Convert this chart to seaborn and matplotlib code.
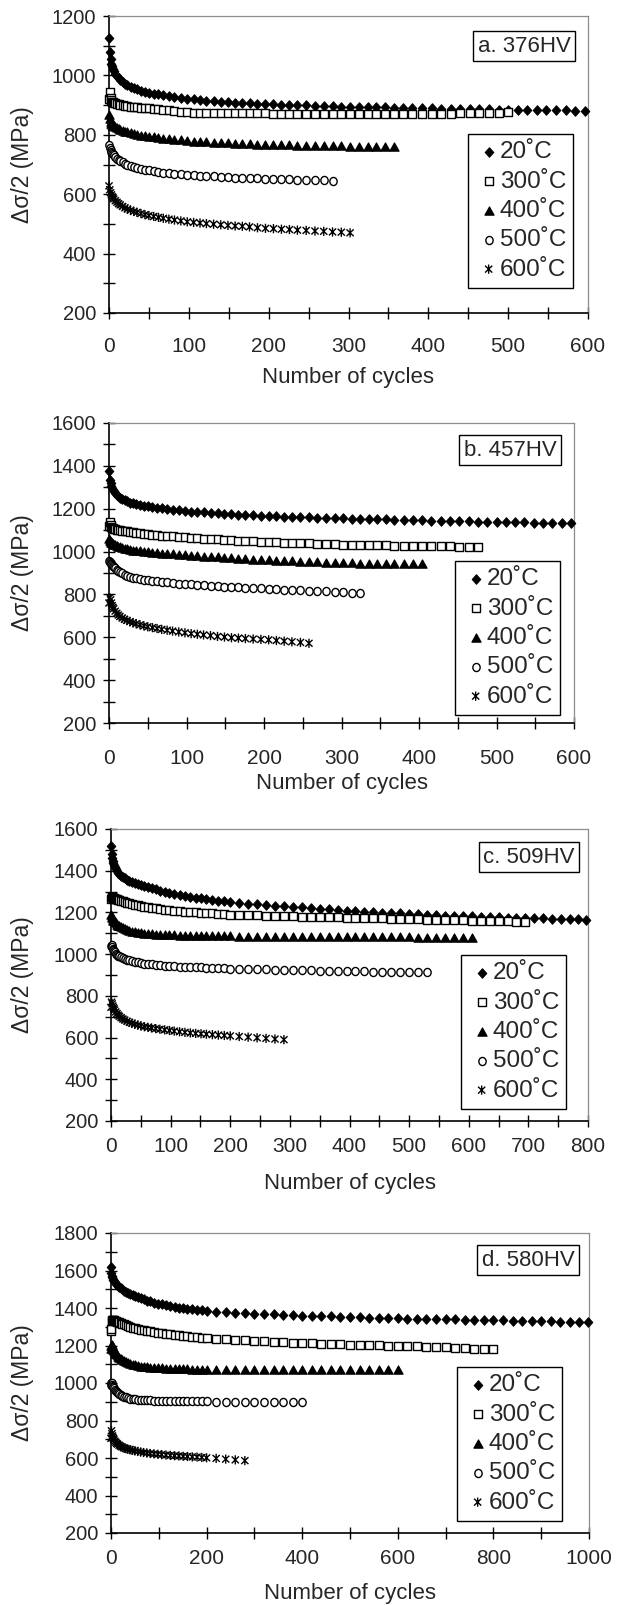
import matplotlib
matplotlib.use("Agg")
import matplotlib.pyplot as plt
import seaborn as sns
import pandas as pd
from matplotlib.path import Path
from matplotlib.ticker import MultipleLocator

# ---------------- data ----------------
TEMPS = ["20˚C", "300˚C", "400˚C", "500˚C", "600˚C"]
PANEL_TITLES = ["a. 376HV", "b. 457HV", "c. 509HV", "d. 580HV"]

CYCLES_600 = [0, 1, 2, 3, 4, 5, 6, 8, 10, 12, 14, 17, 20, 23, 27, 31, 35, 40, 45, 50,
              56, 62, 68, 75, 82, 90, 98, 106, 114, 122, 131, 140, 149, 158, 167, 176,
              186, 196, 206, 216, 226, 236, 247, 258, 269, 280, 291, 302, 313, 324, 335,
              346, 357, 368, 380, 392, 404, 416, 428, 440, 452, 464, 476, 488, 500, 512,
              524, 536, 548, 560, 572, 584, 596]
CYCLES_800 = [0, 1, 2, 3, 4, 5, 6, 8, 10, 12, 14, 17, 20, 23, 27, 31, 35, 40, 45, 50,
              56, 62, 68, 75, 82, 90, 98, 106, 115, 124, 133, 142, 151, 160, 170, 180,
              190, 200, 215, 230, 245, 260, 275, 290, 305, 320, 335, 350, 365, 380, 395,
              410, 425, 440, 455, 470, 485, 500, 515, 530, 545, 560, 575, 590, 605, 620,
              635, 650, 665, 680, 695, 710, 725, 740, 755, 770, 784, 797]
CYCLES_1000 = [0, 1, 2, 3, 4, 5, 6, 8, 10, 12, 14, 17, 20, 23, 27, 31, 35, 40, 45, 50,
               56, 62, 68, 75, 82, 90, 98, 106, 115, 124, 133, 142, 151, 160, 170, 180,
               190, 200, 220, 240, 260, 280, 300, 320, 340, 360, 380, 400, 420, 440, 460,
               480, 500, 520, 540, 560, 580, 600, 620, 640, 660, 680, 700, 720, 740, 760,
               780, 800, 820, 840, 860, 880, 900, 920, 940, 960, 980, 997]

# a. 376HV
A_20 = [1125, 1078, 1055, 1040, 1030, 1022, 1015, 1005, 997, 990, 985, 978, 972, 967, 962,
        957, 953, 949, 945, 942, 939, 936, 933, 930, 927, 924, 921, 919, 917, 915, 913, 911,
        910, 908, 907, 906, 905, 904, 903, 902, 901, 900, 899, 898, 897, 896, 895, 894, 894,
        893, 892, 892, 891, 891, 890, 889, 889, 888, 888, 887, 887, 886, 886, 885, 885, 884,
        884, 883, 883, 882, 882, 881, 881]
A_300 = [920, 945, 925, 916, 912, 910, 908, 906, 904, 903, 901, 900, 898, 897, 895, 894, 892,
         891, 890, 889, 887, 886, 884, 882, 880, 878, 876, 875, 875, 874, 874, 873, 873, 873,
         872, 872, 872, 872, 871, 871, 871, 871, 870, 870, 870, 870, 870, 870, 870, 870, 870,
         870, 870, 870, 870, 870, 871, 871, 871, 872, 872, 873, 874, 875, 876]
A_400 = [868, 852, 843, 838, 834, 831, 829, 825, 822, 819, 817, 814, 811, 808, 805, 802, 800,
         797, 795, 793, 791, 789, 787, 785, 783, 781, 779, 777, 776, 775, 774, 772, 771, 770,
         769, 768, 767, 766, 765, 764, 764, 763, 763, 762, 762, 761, 761, 760, 760, 759, 759,
         758, 758]
A_500 = [765, 755, 748, 743, 738, 734, 731, 725, 720, 716, 712, 707, 703, 699, 695, 691, 688,
         685, 682, 680, 677, 675, 673, 671, 669, 667, 665, 663, 662, 661, 660, 658, 657, 656,
         655, 654, 653, 652, 651, 650, 650, 649, 648, 647, 647, 646]
A_600 = [628, 615, 605, 598, 592, 588, 584, 578, 573, 568, 564, 559, 554, 550, 546, 542, 539,
         535, 531, 528, 525, 522, 519, 516, 513, 510, 507, 505, 503, 501, 499, 497, 495, 493,
         492, 490, 487, 485, 484, 482, 481, 479, 478, 476, 475, 473, 472, 470]

# b. 457HV
B_20 = [1376, 1335, 1318, 1305, 1296, 1289, 1283, 1273, 1265, 1258, 1252, 1245, 1239, 1234,
        1229, 1225, 1221, 1217, 1214, 1211, 1208, 1205, 1202, 1199, 1196, 1193, 1190, 1187,
        1185, 1183, 1181, 1179, 1177, 1175, 1173, 1171, 1169, 1167, 1165, 1164, 1163, 1162,
        1161, 1160, 1158, 1157, 1156, 1155, 1154, 1153, 1152, 1151, 1150, 1149, 1148, 1147,
        1146, 1145, 1144, 1143, 1142, 1141, 1140, 1139, 1138, 1137, 1137, 1136, 1135, 1135,
        1134, 1134, 1133]
B_300 = [1120, 1140, 1125, 1115, 1110, 1108, 1106, 1104, 1102, 1101, 1100, 1098, 1096, 1094,
         1092, 1090, 1088, 1086, 1083, 1081, 1079, 1077, 1075, 1073, 1071, 1069, 1067, 1065,
         1063, 1061, 1059, 1057, 1055, 1053, 1051, 1049, 1048, 1046, 1044, 1043, 1042, 1040,
         1039, 1038, 1037, 1035, 1034, 1033, 1032, 1031, 1031, 1030, 1029, 1028, 1028, 1027,
         1026, 1025, 1025, 1024, 1023, 1022, 1021]
B_400 = [1060, 1050, 1045, 1041, 1038, 1035, 1033, 1029, 1026, 1023, 1020, 1017, 1014, 1011,
         1008, 1005, 1003, 1001, 999, 997, 995, 993, 991, 989, 987, 985, 983, 981, 979, 977,
         975, 973, 971, 969, 967, 965, 963, 961, 959, 957, 956, 955, 953, 952, 950, 949, 947,
         946, 945, 944, 944, 943, 943, 942, 942, 941, 941]
B_500 = [955, 950, 945, 940, 936, 932, 928, 922, 916, 910, 905, 898, 892, 888, 883, 879, 876,
         872, 869, 866, 863, 861, 858, 856, 854, 851, 849, 847, 845, 843, 841, 839, 837, 835,
         833, 831, 829, 828, 826, 825, 823, 822, 820, 818, 817, 815, 813, 811, 809, 807]
B_600 = [760, 785, 775, 760, 748, 740, 733, 722, 712, 704, 697, 690, 684, 679, 673, 668, 663,
         658, 653, 649, 645, 641, 637, 633, 629, 625, 621, 617, 614, 611, 608, 604, 601, 598,
         596, 594, 592, 590, 588, 585, 582, 579, 576, 572]

# c. 509HV
C_20 = [1518, 1480, 1462, 1448, 1437, 1428, 1420, 1408, 1399, 1391, 1385, 1376, 1369, 1363,
        1356, 1350, 1345, 1340, 1336, 1332, 1327, 1322, 1317, 1311, 1305, 1299, 1293, 1288,
        1283, 1279, 1275, 1271, 1267, 1263, 1259, 1256, 1253, 1250, 1246, 1242, 1239, 1236,
        1233, 1230, 1227, 1224, 1221, 1218, 1215, 1212, 1209, 1206, 1203, 1201, 1199, 1197,
        1195, 1193, 1191, 1189, 1187, 1185, 1184, 1182, 1181, 1179, 1178, 1177, 1175, 1174,
        1173, 1172, 1171, 1170, 1169, 1168, 1167, 1166]
C_300 = [1262, 1275, 1272, 1270, 1268, 1267, 1266, 1264, 1262, 1260, 1258, 1256, 1253, 1250,
         1247, 1244, 1241, 1237, 1234, 1231, 1228, 1225, 1222, 1219, 1216, 1213, 1210, 1208,
         1206, 1204, 1202, 1200, 1198, 1197, 1195, 1193, 1192, 1190, 1189, 1187, 1186, 1185,
         1183, 1182, 1181, 1180, 1179, 1178, 1177, 1176, 1175, 1174, 1173, 1172, 1171, 1170,
         1169, 1168, 1167, 1166, 1165, 1164, 1163, 1162, 1161, 1160, 1159, 1158, 1157, 1156,
         1155]
C_400 = [1190, 1180, 1172, 1166, 1161, 1157, 1153, 1147, 1142, 1137, 1133, 1128, 1123, 1119,
         1115, 1111, 1108, 1105, 1102, 1100, 1098, 1096, 1095, 1094, 1093, 1092, 1091, 1090,
         1089, 1088, 1088, 1087, 1087, 1086, 1086, 1085, 1085, 1085, 1084, 1084, 1084, 1083,
         1083, 1083, 1083, 1082, 1082, 1082, 1082, 1082, 1081, 1081, 1081, 1081, 1080, 1080,
         1080, 1080, 1079, 1079, 1079, 1078, 1078, 1078, 1077]
C_500 = [1040, 1045, 1035, 1026, 1020, 1015, 1010, 1003, 998, 993, 989, 984, 980, 977, 973,
         970, 967, 964, 961, 958, 955, 953, 951, 949, 947, 945, 943, 941, 940, 939, 938, 937,
         936, 935, 934, 933, 932, 931, 930, 929, 928, 927, 926, 925, 924, 923, 922, 921, 920,
         919, 918, 918, 917, 916, 916, 915, 914, 914, 913, 912]
C_600 = [745, 770, 762, 752, 744, 738, 732, 723, 715, 708, 702, 695, 689, 684, 678, 673, 669,
         664, 660, 656, 652, 649, 646, 643, 640, 637, 634, 631, 628, 625, 622, 620, 618, 616,
         614, 612, 610, 608, 605, 602, 599, 596, 593, 590]

# d. 580HV
D_20 = [1620, 1585, 1572, 1563, 1556, 1550, 1545, 1537, 1530, 1524, 1519, 1512, 1506, 1500,
        1493, 1487, 1481, 1475, 1469, 1463, 1457, 1451, 1446, 1440, 1435, 1429, 1424, 1419,
        1414, 1410, 1406, 1402, 1399, 1396, 1393, 1390, 1388, 1385, 1381, 1378, 1375, 1372,
        1370, 1368, 1366, 1364, 1362, 1360, 1358, 1357, 1355, 1354, 1352, 1351, 1349, 1348,
        1347, 1345, 1344, 1343, 1342, 1341, 1340, 1339, 1338, 1337, 1336, 1335, 1334, 1333,
        1332, 1331, 1330, 1329, 1328, 1327, 1326, 1325]
D_300 = [1275, 1290, 1330, 1335, 1336, 1335, 1334, 1332, 1330, 1328, 1326, 1323, 1320, 1317,
         1313, 1309, 1305, 1300, 1296, 1292, 1288, 1284, 1281, 1278, 1275, 1272, 1269, 1266,
         1263, 1260, 1257, 1254, 1252, 1249, 1247, 1244, 1242, 1240, 1236, 1233, 1230, 1227,
         1224, 1222, 1220, 1218, 1216, 1214, 1212, 1210, 1208, 1207, 1205, 1204, 1202, 1201,
         1199, 1198, 1196, 1195, 1193, 1191, 1190, 1188, 1186, 1184, 1182, 1180]
D_400 = [1180, 1200, 1205, 1195, 1186, 1178, 1172, 1162, 1154, 1147, 1141, 1134, 1128, 1122,
         1116, 1111, 1106, 1101, 1097, 1094, 1091, 1088, 1086, 1084, 1082, 1080, 1079, 1078,
         1077, 1076, 1075, 1074, 1073, 1073, 1072, 1072, 1071, 1071, 1070, 1070, 1069, 1069,
         1068, 1068, 1068, 1068, 1068, 1068, 1068, 1069, 1069, 1069, 1069, 1070, 1070, 1070,
         1071, 1071]
D_500 = [990, 1000, 998, 990, 983, 977, 972, 963, 956, 950, 945, 939, 934, 930, 926, 923, 920,
         917, 915, 913, 911, 910, 909, 908, 907, 906, 906, 905, 905, 904, 904, 904, 903, 903,
         903, 902, 902, 902, 901, 901, 901, 900, 900, 900, 900, 899, 899, 899]
D_600 = [705, 745, 730, 718, 710, 703, 698, 690, 684, 678, 674, 668, 663, 659, 654, 650, 647,
         644, 641, 638, 635, 632, 629, 627, 624, 622, 620, 618, 616, 614, 612, 611, 609, 608,
         606, 605, 603, 601, 598, 594, 590, 586]

PANEL_CYCLES = [CYCLES_600, CYCLES_600, CYCLES_800, CYCLES_1000]
PANEL_SERIES = [[A_20, A_300, A_400, A_500, A_600],
                [B_20, B_300, B_400, B_500, B_600],
                [C_20, C_300, C_400, C_500, C_600],
                [D_20, D_300, D_400, D_500, D_600]]
PANEL_XMAX = [600, 600, 800, 1000]
PANEL_YMAX = [1200, 1600, 1600, 1800]
PANEL_XMAJOR = [100, 100, 100, 200]

# ---------------- style / layout ----------------
sns.set_theme(style="ticks")
plt.rcParams["font.family"] = ["Liberation Sans", "DejaVu Sans"]
plt.rcParams["axes.facecolor"] = "white"

W, H = 625, 1605
fig = plt.figure(figsize=(W / 100, H / 100), dpi=100)
fig.patch.set_facecolor("white")

MOVE, LINE, CLOSE = Path.MOVETO, Path.LINETO, Path.CLOSEPOLY
diamond = Path([(0, 1), (0.9, 0), (0, -1), (-0.9, 0), (0, 1)], [MOVE, LINE, LINE, LINE, CLOSE])
square = Path([(-0.9, -1), (0.9, -1), (0.9, 1), (-0.9, 1), (-0.9, -1)],
              [MOVE, LINE, LINE, LINE, CLOSE])
triangle = Path([(0, 1), (1.0, -0.8), (-1.0, -0.8), (0, 1)], [MOVE, LINE, LINE, CLOSE])
_circ = Path.unit_circle()
ellipse = Path(_circ.vertices * [0.9, 1.0], _circ.codes)
star = Path([(0, -1), (0, 1), (-0.78, -0.75), (0.78, 0.75), (-0.78, 0.75), (0.78, -0.75)],
            [MOVE, LINE] * 3)
STYLES = [dict(marker=diamond, s=46, fc="black", lw=0.8),
          dict(marker=square, s=32, fc="white", lw=1.0),
          dict(marker=triangle, s=44, fc="black", lw=0.8),
          dict(marker=ellipse, s=34, fc="white", lw=1.0),
          dict(marker=star, s=44, fc="none", lw=1.0)]

# (left, right, top, bottom) in pixels
BOXES = [(109, 588, 16, 313), (109, 574, 423, 723), (111, 588, 829, 1121), (111, 589, 1233, 1533)]
NOTES = [(524, 46), (510, 450), (529, 857), (528, 1260)]
LEGS = [(468, 134), (455, 561), (461, 955), (457, 1367)]
XLAB_Y = [377, 783, 1183, 1593]
XPAD = [13, 14.5, 7, 7]

for i in range(4):
    L, R, T, B = BOXES[i]
    ax = fig.add_axes([L / W, 1 - B / H, (R - L) / W, (B - T) / H])
    cyc = PANEL_CYCLES[i]
    for temp, vals, st in zip(TEMPS, PANEL_SERIES[i], STYLES):
        df = pd.DataFrame({"cycles": cyc[:len(vals)], "stress": vals})
        sns.scatterplot(data=df, x="cycles", y="stress", ax=ax, marker=st["marker"],
                        s=st["s"], facecolor=st["fc"], edgecolor="black",
                        linewidth=st["lw"], label=temp, legend=False, zorder=3,
                        clip_on=False)
    ax.set_xlim(0, PANEL_XMAX[i])
    ax.set_ylim(200, PANEL_YMAX[i])
    ax.xaxis.set_major_locator(MultipleLocator(PANEL_XMAJOR[i]))
    ax.xaxis.set_minor_locator(MultipleLocator(PANEL_XMAJOR[i] / 2))
    ax.yaxis.set_major_locator(MultipleLocator(200))
    ax.yaxis.set_minor_locator(MultipleLocator(100))
    ax.tick_params(which="both", direction="inout", length=8.5, width=1.0, color="black")
    ax.tick_params(axis="x", labelsize=15, pad=XPAD[i])
    ax.tick_params(axis="y", labelsize=14.5, pad=5)
    for sp in ["top", "right"]:
        ax.spines[sp].set_color("#8c8c8c")
        ax.spines[sp].set_linewidth(0.9)
    for sp in ["left", "bottom"]:
        ax.spines[sp].set_color("black")
        ax.spines[sp].set_linewidth(1.2)
    ax.grid(False)

    ax.set_ylabel("Δσ/2 (MPa)", fontsize=16.5)
    ax.yaxis.label.set_va("center")
    ax.yaxis.set_label_coords((23 - L) / (R - L), 0.5)
    ax.set_xlabel("Number of cycles", fontsize=16)
    ax.xaxis.label.set_va("center")
    ax.xaxis.set_label_coords(0.5, -(XLAB_Y[i] - B) / (B - T))

    nx, ny = NOTES[i]
    fig.text(nx / W, 1 - ny / H, PANEL_TITLES[i], ha="center", va="center", fontsize=16,
             bbox=dict(boxstyle="square,pad=0.2", fc="white", ec="black", lw=1.0))

    handles, labels = ax.get_legend_handles_labels()
    lx, ly = LEGS[i]
    leg = ax.legend(handles, labels, loc="upper left", bbox_to_anchor=(lx / W, 1 - ly / H),
                    bbox_transform=fig.transFigure, frameon=True, fancybox=False,
                    edgecolor="black", framealpha=1, fontsize=17.5, handlelength=1.1,
                    handletextpad=-0.1, borderpad=0.3, labelspacing=0.3,
                    borderaxespad=0, scatterpoints=1)
    leg.get_frame().set_linewidth(1.0)

fig.savefig("out.png", dpi=100, facecolor="white")
